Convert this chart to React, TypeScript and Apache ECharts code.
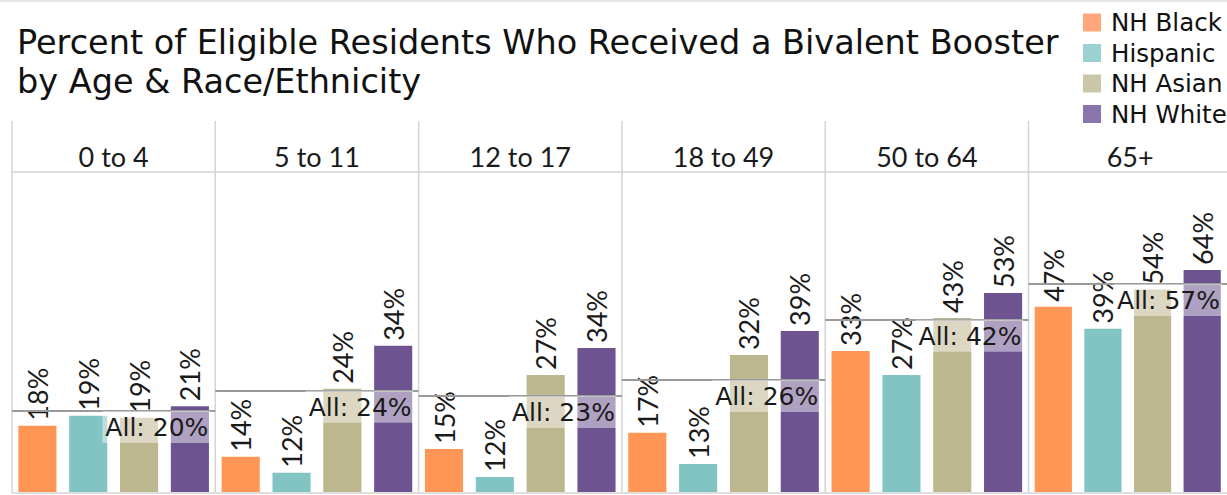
import React, { useEffect, useRef } from "react";
import * as echarts from "echarts";

const races = ["NH Black", "Hispanic", "NH Asian", "NH White"];
const ageGroups = ["0 to 4", "5 to 11", "12 to 17", "18 to 49", "50 to 64", "65+"];
const nhBlack = [17.7, 13.7, 14.6, 16.7, 32.8, 47.2];
const hispanic = [19.2, 12.0, 11.6, 12.9, 26.9, 39.4];
const nhAsian = [18.9, 24.0, 26.9, 31.7, 43.0, 54.4];
const nhWhite = [20.8, 34.2, 33.6, 38.7, 52.9, 64.0];
const allRates = [20.0, 23.6, 22.6, 25.8, 42.4, 57.0];

const raceValues = [nhBlack, hispanic, nhAsian, nhWhite];
const barColors = ["#FF9655", "#82C4C4", "#BDB790", "#6D5491"];
const legendColors = ["#FFA67C", "#9CD1D1", "#CBC6A8", "#8A75AA"];

const FONT = "Lato";
const FONT_WIDE = "DejaVu Sans";
const PANEL_LEFT = 12;
const PANEL_W = 203.3;
const GRID_TOP = 172;
const GRID_H = 320;
const HEADER_TOP = 121;
const W = 1227;
const H = 495;

export default function App() {
  const ref = useRef<HTMLDivElement>(null);
  useEffect(() => {
    if (!ref.current) return;
    const chart = echarts.init(ref.current, null, { renderer: "svg" });

    const grids: any[] = [];
    const xAxes: any[] = [];
    const yAxes: any[] = [];
    const series: any[] = [];
    const graphics: any[] = [];

    ageGroups.forEach((age, i) => {
      grids.push({
        left: PANEL_LEFT + i * PANEL_W,
        top: GRID_TOP,
        width: PANEL_W,
        height: GRID_H,
        containLabel: false,
      });
      xAxes.push({
        gridIndex: i,
        type: "category",
        data: races,
        axisLine: { show: false },
        axisTick: { show: false },
        axisLabel: { show: false },
      });
      yAxes.push({
        gridIndex: i,
        type: "log",
        logBase: 10,
        min: 10.24,
        max: 143.6,
        startValue: 10.24,
        axisLine: { show: false },
        axisTick: { show: false },
        axisLabel: { show: false },
        splitLine: { show: false },
      });
      races.forEach((race, r) => {
        const s: any = {
          type: "bar",
          name: race,
          xAxisIndex: i,
          yAxisIndex: i,
          barGap: "-100%",
          barWidth: "75%",
          clip: true,
          data: races.map((_, k) => (k === r ? raceValues[r][i] : "-")),
          itemStyle: { color: barColors[r] },
          label: {
            show: true,
            position: "top",
            rotate: 90,
            align: "left",
            verticalAlign: "middle",
            distance: 5,
            fontFamily: FONT,
            fontSize: 27,
            color: "#1a1a1a",
            formatter: (p: any) => Math.round(p.value) + "%",
          },
        };
        if (r === 0) {
          s.markLine = {
            silent: true,
            symbol: ["none", "none"],
            lineStyle: { color: "#9a9a9a", width: 2, type: "solid" },
            label: {
              show: true,
              position: "insideEndBottom",
              distance: [5, 0],
              formatter: (p: any) => "All: " + Math.round(p.value) + "%",
              fontFamily: FONT_WIDE,
              fontSize: 25,
              color: "#1a1a1a",
              backgroundColor: "rgba(255,255,255,0.45)",
              padding: [4, 2, 3, 3],
            },
            data: [{ yAxis: allRates[i] }],
          };
        }
        series.push(s);
      });

      graphics.push({
        type: "text",
        x: PANEL_LEFT + (i + 0.5) * PANEL_W,
        y: 156,
        style: {
          text: age,
          fontFamily: FONT,
          fontSize: 27,
          fill: "#1a1a1a",
          textAlign: "center",
          textVerticalAlign: "middle",
        },
      });
    });

    const lineStyle = { stroke: "#d4d4d4", lineWidth: 1.5 };
    for (let i = 0; i <= ageGroups.length; i++) {
      const x = PANEL_LEFT + i * PANEL_W;
      graphics.push({
        type: "line",
        shape: { x1: x, y1: HEADER_TOP, x2: x, y2: GRID_TOP + GRID_H + 1 },
        style: lineStyle,
        silent: true,
      });
    }
    graphics.push({
      type: "line",
      shape: { x1: PANEL_LEFT, y1: GRID_TOP, x2: W, y2: GRID_TOP },
      style: lineStyle,
      silent: true,
    });
    graphics.push({
      type: "line",
      shape: { x1: PANEL_LEFT, y1: GRID_TOP + GRID_H + 1, x2: W, y2: GRID_TOP + GRID_H + 1 },
      style: lineStyle,
      silent: true,
    });
    graphics.push({
      type: "line",
      shape: { x1: 0, y1: 1, x2: W, y2: 1 },
      style: { stroke: "#dcdcdc", lineWidth: 1.5 },
      silent: true,
    });

    chart.setOption({
      animation: false,
      title: {
        text: "Percent of Eligible Residents Who Received a Bivalent Booster\nby Age & Race/Ethnicity",
        left: 17,
        top: 23,
        padding: 0,
        textStyle: {
          fontFamily: FONT_WIDE,
          fontSize: 33.5,
          fontWeight: "normal",
          color: "#111",
          lineHeight: 39,
        },
      },
      legend: {
        orient: "vertical",
        left: 1078,
        top: 5,
        itemWidth: 18,
        itemHeight: 18,
        itemGap: 5.5,
        icon: "rect",
        textStyle: {
          fontFamily: FONT_WIDE,
          fontSize: 24.5,
          color: "#111",
          padding: [0, 0, 0, 5],
        },
        data: races.map((name, r) => ({ name, itemStyle: { color: legendColors[r] } })),
      },
      grid: grids,
      xAxis: xAxes,
      yAxis: yAxes,
      series,
      graphic: graphics,
    });

    return () => chart.dispose();
  }, []);

  return (
    <div
      ref={ref}
      style={{ position: "fixed", left: 0, top: 0, width: W + "px", height: H + "px", background: "#fff" }}
    />
  );
}
